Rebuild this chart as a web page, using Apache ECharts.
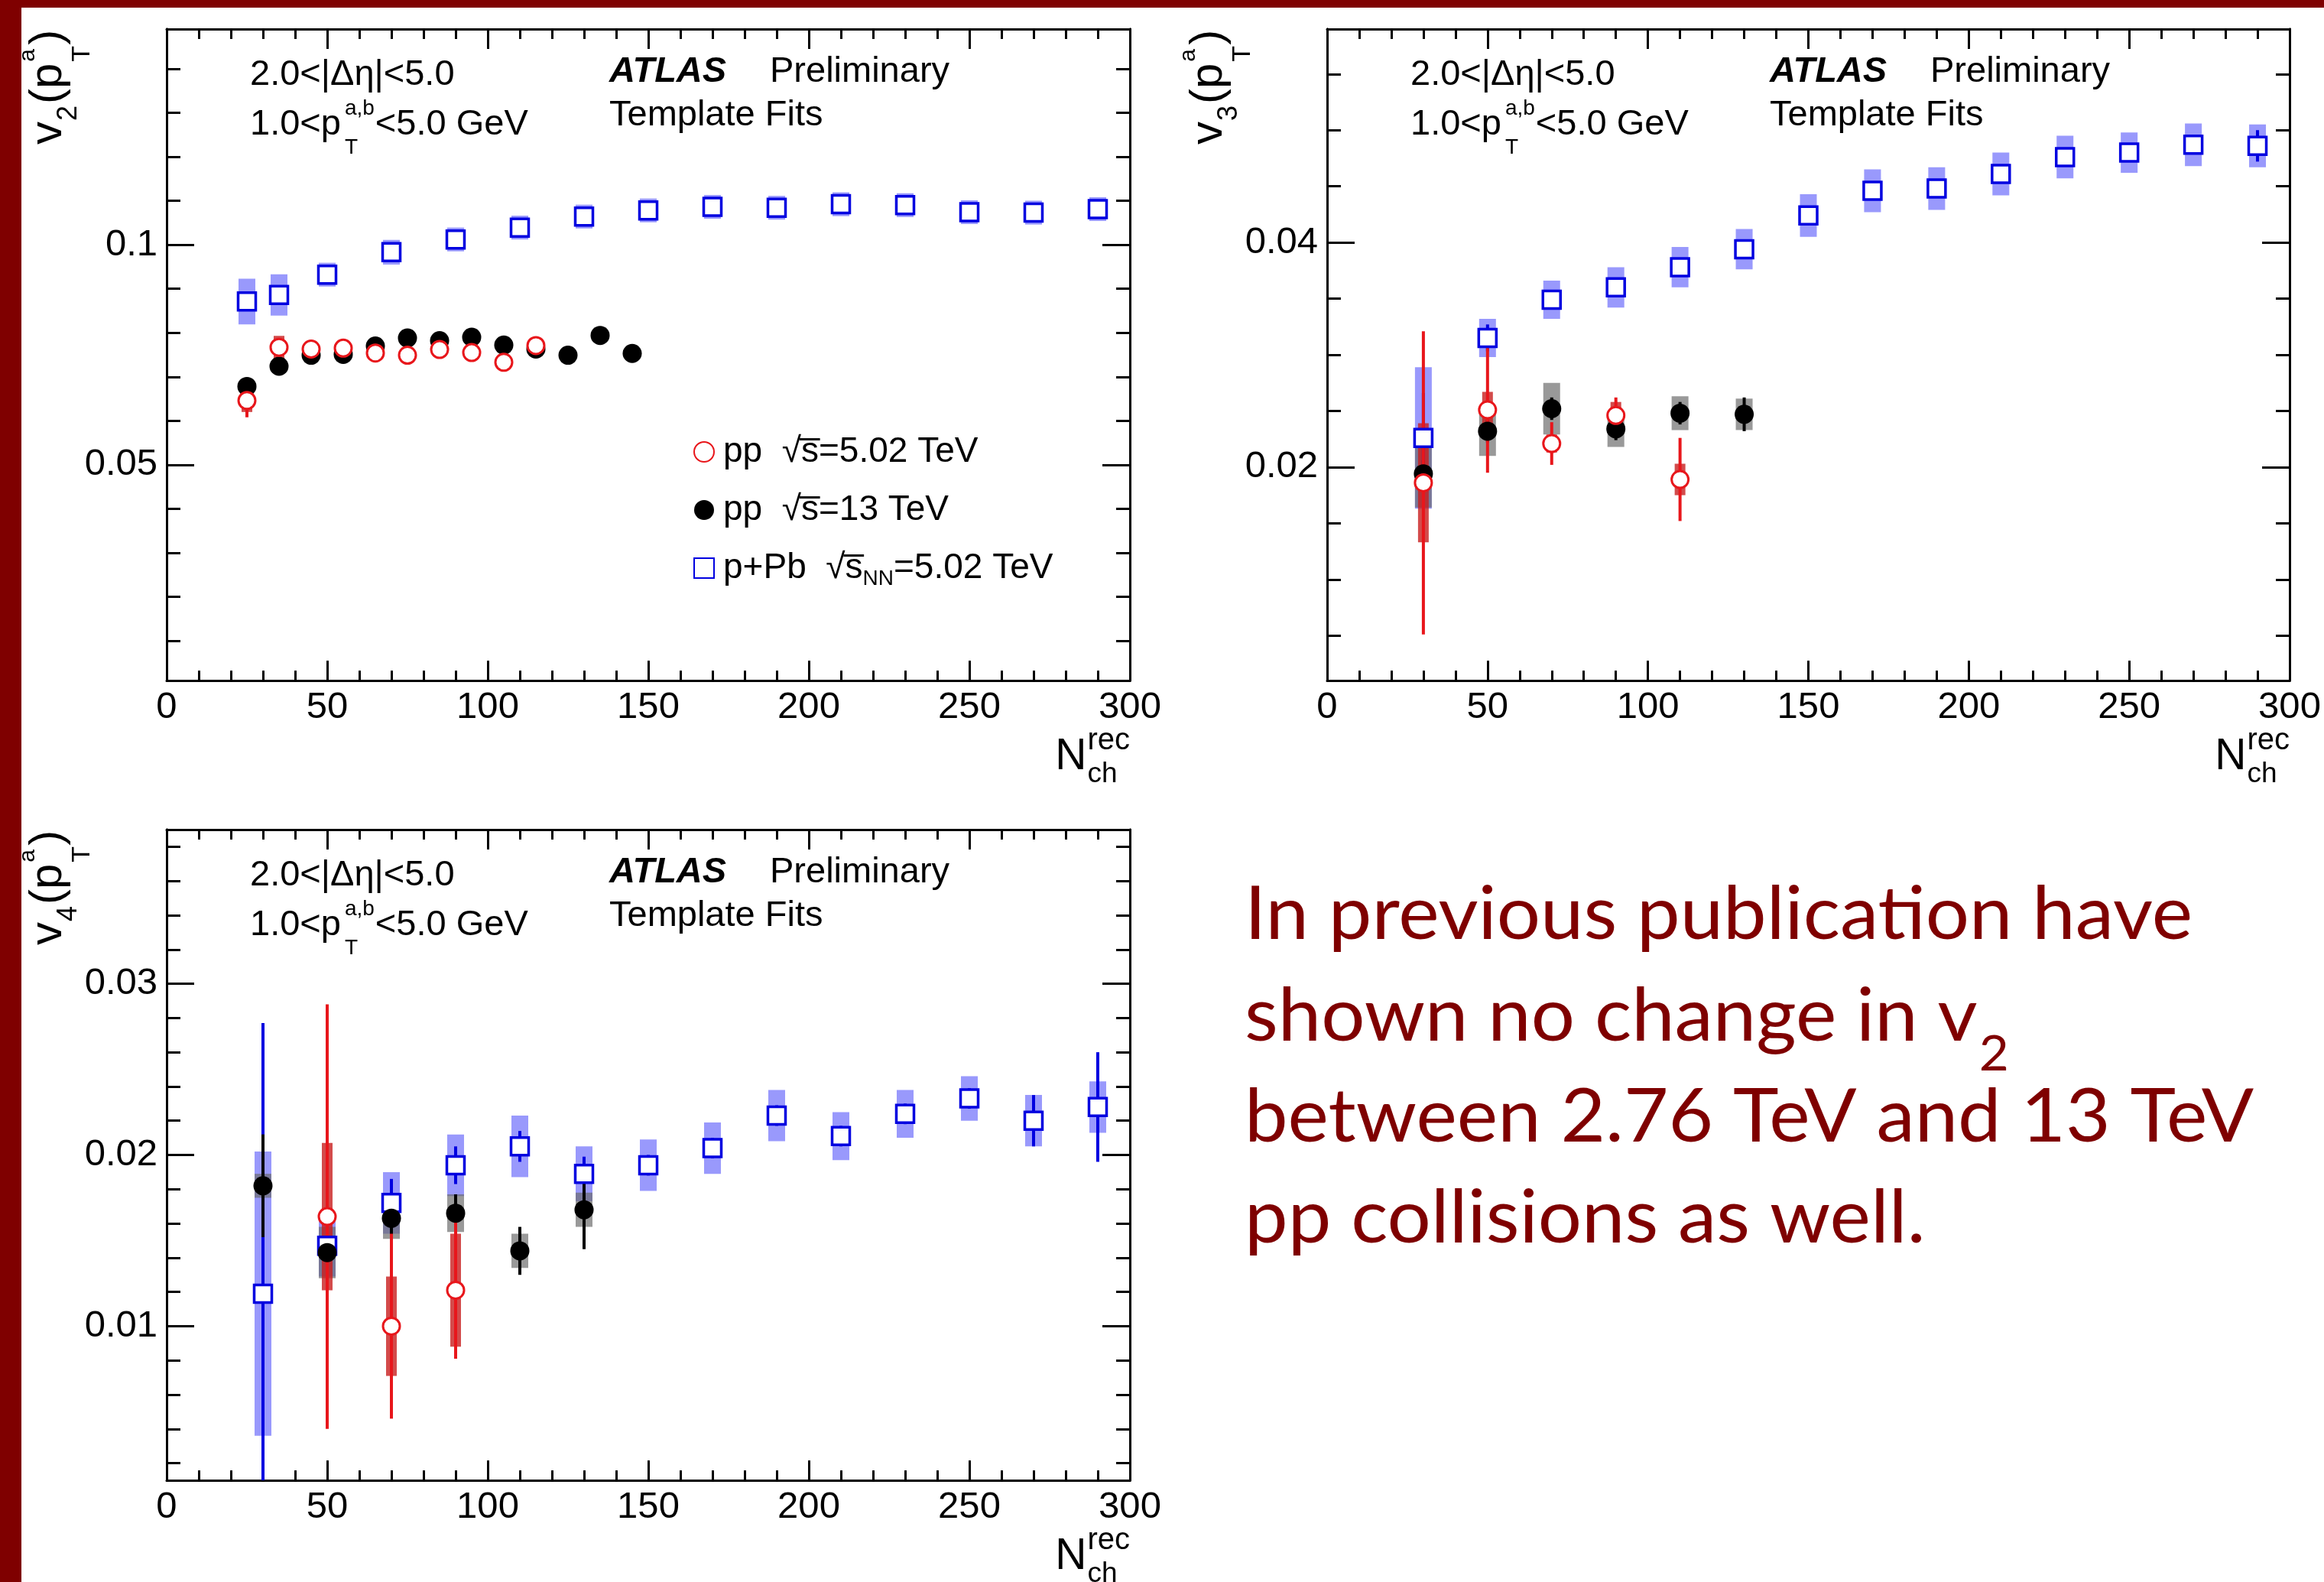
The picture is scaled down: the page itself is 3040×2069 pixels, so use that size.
<!DOCTYPE html>
<html><head><meta charset="utf-8">
<script src="https://cdn.jsdelivr.net/npm/echarts@6/dist/echarts.min.js"></script>
<style>html,body{margin:0;padding:0;background:#fff;}#c{width:3040px;height:2069px;}</style>
</head><body><div id="c"></div>
<script>
// ================= DATA =================
const xTickLabels = [0, 50, 100, 150, 200, 250, 300];
const v2MajorTicks = [0.05, 0.1];
const v2MinorTicks = [0.01, 0.02, 0.03, 0.04, 0.06, 0.07, 0.08, 0.09, 0.11, 0.12, 0.13, 0.14];
const v3MajorTicks = [0.02, 0.04];
const v3MinorTicks = [0.005, 0.01, 0.015, 0.025, 0.03, 0.035, 0.045, 0.05, 0.055];
const v4MajorTicks = [0.01, 0.02, 0.03];
const v4MinorTicks = [0.002, 0.004, 0.006, 0.008, 0.012, 0.014, 0.016, 0.018, 0.022, 0.024, 0.026, 0.028, 0.032, 0.034, 0.036, 0.038];

// v2
const pPb_v2_N    = [25, 35, 50, 70, 90, 110, 130, 150, 170, 190, 210, 230, 250, 270, 290];
const pPb_v2      = [0.0871, 0.0886, 0.0932, 0.0983, 0.1012, 0.1039, 0.1064, 0.1078, 0.1086, 0.1084, 0.1092, 0.1090, 0.1074, 0.1073, 0.1081];
const pPb_v2_stat = [0.0005, 0.0005, 0.0005, 0.0005, 0.0005, 0.0005, 0.0005, 0.0005, 0.0005, 0.0005, 0.0005, 0.0005, 0.0005, 0.0005, 0.0005];
const pPb_v2_sys  = [0.0052, 0.0047, 0.0027, 0.0028, 0.0027, 0.0027, 0.0027, 0.0027, 0.0027, 0.0027, 0.0027, 0.0027, 0.0027, 0.0027, 0.0027];
const pp13_v2_N    = [25, 35, 45, 55, 65, 75, 85, 95, 105, 115, 125, 135, 145];
const pp13_v2      = [0.0678, 0.0724, 0.0749, 0.0751, 0.0770, 0.0788, 0.0782, 0.0790, 0.0772, 0.0763, 0.0749, 0.0794, 0.0753];
const pp13_v2_stat = [0.0006, 0.0006, 0.0006, 0.0006, 0.0006, 0.0006, 0.0006, 0.0006, 0.0006, 0.0006, 0.0006, 0.0006, 0.0006];
const pp13_v2_sys  = [0.0008, 0.0008, 0.0008, 0.0008, 0.0008, 0.0008, 0.0008, 0.0008, 0.0008, 0.0008, 0.0008, 0.0008, 0.0008];
const pp5_v2_N    = [25, 35, 45, 55, 65, 75, 85, 95, 105, 115];
const pp5_v2      = [0.0646, 0.0767, 0.0763, 0.0765, 0.0754, 0.0749, 0.0762, 0.0755, 0.0733, 0.0771];
const pp5_v2_stat = [0.0038, 0.0012, 0.0010, 0.0010, 0.0010, 0.0010, 0.0010, 0.0010, 0.0010, 0.0010];
const pp5_v2_sys  = [0.0026, 0.0026, 0.0012, 0.0012, 0.0012, 0.0012, 0.0012, 0.0012, 0.0012, 0.0012];

// v3
const pPb_v3_N    = [30, 50, 70, 90, 110, 130, 150, 170, 190, 210, 230, 250, 270, 290];
const pPb_v3      = [0.0226, 0.0315, 0.0349, 0.0360, 0.0378, 0.0394, 0.0424, 0.0446, 0.0448, 0.0461, 0.0476, 0.0480, 0.0487, 0.0486];
const pPb_v3_stat = [0.0040, 0.0012, 0.0008, 0.0008, 0.0008, 0.0008, 0.0008, 0.0008, 0.0008, 0.0008, 0.0008, 0.0008, 0.0008, 0.0014];
const pPb_v3_sys  = [0.0063, 0.0017, 0.0017, 0.0018, 0.0018, 0.0018, 0.0019, 0.0019, 0.0019, 0.0019, 0.0019, 0.0018, 0.0019, 0.0019];
const pp13_v3_N    = [30, 50, 70, 90, 110, 130];
const pp13_v3      = [0.0194, 0.0232, 0.0252, 0.0234, 0.0248, 0.0247];
const pp13_v3_stat = [0.0012, 0.0010, 0.0010, 0.0010, 0.0010, 0.0015];
const pp13_v3_sys  = [0.0030, 0.0022, 0.0023, 0.0016, 0.0015, 0.0014];
const pp5_v3_N    = [30, 50, 70, 90, 110];
const pp5_v3      = [0.0186, 0.0251, 0.0221, 0.0246, 0.0189];
const pp5_v3_stat = [0.0135, 0.0056, 0.0019, 0.0016, 0.0037];
const pp5_v3_sys  = [0.0053, 0.0016, 0.0008, 0.0012, 0.0014];

// v4
const pPb_v4_N    = [30, 50, 70, 90, 110, 130, 150, 170, 190, 210, 230, 250, 270, 290];
const pPb_v4      = [0.0119, 0.0147, 0.0172, 0.0194, 0.0205, 0.0189, 0.0194, 0.0204, 0.0223, 0.0211, 0.0224, 0.0233, 0.0220, 0.0228];
const pPb_v4_stat = [0.0158, 0.0010, 0.0014, 0.0011, 0.0009, 0.0010, 0.0006, 0.0006, 0.0006, 0.0006, 0.0006, 0.0006, 0.0015, 0.0032];
const pPb_v4_sys  = [0.0083, 0.0018, 0.0018, 0.0018, 0.0018, 0.0016, 0.0015, 0.0015, 0.0015, 0.0014, 0.0014, 0.0013, 0.0015, 0.0015];
const pp13_v4_N    = [30, 50, 70, 90, 110, 130];
const pp13_v4      = [0.0182, 0.0143, 0.0163, 0.0166, 0.0144, 0.0168];
const pp13_v4_stat = [0.0030, 0.0024, 0.0010, 0.0011, 0.0014, 0.0023];
const pp13_v4_sys  = [0.0007, 0.0015, 0.0012, 0.0011, 0.0010, 0.0010];
const pp5_v4_N    = [50, 70, 90];
const pp5_v4      = [0.0164, 0.0100, 0.0121];
const pp5_v4_stat = [0.0124, 0.0054, 0.0040];
const pp5_v4_sys  = [0.0043, 0.0029, 0.0033];

const legendNames = ['pp5', 'pp13', 'pPb'];
const legendLabels = {
  pp5: '{t|pp  \u221As\u0305=5.02 TeV}',
  pp13: '{t|pp  \u221As\u0305=13 TeV}',
  pPb: '{t|p+Pb  \u221As\u0305}{sub|NN}{t|=5.02 TeV}'
};
const noteLines = ['In previous publication have', 'shown no change in v', 'between 2.76 TeV and 13 TeV', 'pp collisions as well.'];
const noteSub = '2';

// ================= STYLE / LAYOUT =================
const FONT = '"Liberation Sans", Arial, Helvetica, sans-serif';
const BLUE = '#0000e0', BLUE_BAND = 'rgba(90,90,250,0.62)';
const RED = '#e8161b', RED_BAND = 'rgba(200,30,30,0.8)';
const GREY_BAND = 'rgba(105,105,105,0.68)';
const DARKRED = '#7f0000';
const LAYOUT = [
  {left: 218, top: 38, width: 1260, height: 852},
  {left: 1736, top: 38, width: 1259, height: 852},
  {left: 218, top: 1085, width: 1260, height: 851}
];
const PANELS = [
  {ymin: 0.001, ymax: 0.149, major: v2MajorTicks, minor: v2MinorTicks, n: '2',
   pPb: [pPb_v2_N, pPb_v2, pPb_v2_stat, pPb_v2_sys], pp13: [pp13_v2_N, pp13_v2, pp13_v2_stat, pp13_v2_sys], pp5: [pp5_v2_N, pp5_v2, pp5_v2_stat, pp5_v2_sys]},
  {ymin: 0.001, ymax: 0.059, major: v3MajorTicks, minor: v3MinorTicks, n: '3',
   pPb: [pPb_v3_N, pPb_v3, pPb_v3_stat, pPb_v3_sys], pp13: [pp13_v3_N, pp13_v3, pp13_v3_stat, pp13_v3_sys], pp5: [pp5_v3_N, pp5_v3, pp5_v3_stat, pp5_v3_sys]},
  {ymin: 0.001, ymax: 0.039, major: v4MajorTicks, minor: v4MinorTicks, n: '4',
   pPb: [pPb_v4_N, pPb_v4, pPb_v4_stat, pPb_v4_sys], pp13: [pp13_v4_N, pp13_v4, pp13_v4_stat, pp13_v4_sys], pp5: [pp5_v4_N, pp5_v4, pp5_v4_stat, pp5_v4_sys]}
];

const mctx = document.createElement('canvas').getContext('2d');
function tw(text, size, family, weight, style) {
  mctx.font = (style || 'normal') + ' ' + (weight || 'normal') + ' ' + size + 'px ' + (family || FONT);
  return mctx.measureText(text).width;
}
const MID = 0.31; // canvas 'middle' to baseline, in em

function txt(text, x, baseline, size, styleExtra) {
  return {type: 'text', x: x, y: baseline - MID * size, z: 100,
    style: Object.assign({text: text, fontSize: size, fontFamily: FONT, fill: '#000', align: 'left', verticalAlign: 'middle'}, styleExtra || {})};
}

const grids = [], xAxes = [], yAxes = [], series = [], graphics = [];
const lineSt = {color: '#000', width: 3};
const LABEL_FS = 49;

PANELS.forEach((P, gi) => {
  const G = LAYOUT[gi];
  grids.push({left: G.left, top: G.top, width: G.width, height: G.height, containLabel: false});
  const xBase = {type: 'value', gridIndex: gi, min: 0, max: 300, interval: 50,
    axisLine: {show: true, onZero: false, lineStyle: lineSt},
    axisTick: {show: true, inside: true, length: 26, lineStyle: lineSt},
    minorTick: {show: true, splitNumber: 5, length: 13, lineStyle: lineSt},
    splitLine: {show: false}, minorSplitLine: {show: false}};
  xAxes.push(Object.assign({}, xBase, {position: 'bottom',
    axisLabel: {show: true, customValues: xTickLabels, margin: 11, fontSize: LABEL_FS, fontFamily: FONT, color: '#000'}}));
  xAxes.push(Object.assign({}, xBase, {position: 'top', axisLabel: {show: false}}));
  const yBase = {type: 'value', gridIndex: gi, min: P.ymin, max: P.ymax, splitLine: {show: false},
    axisLine: {show: true, onZero: false, lineStyle: lineSt}};
  yAxes.push(Object.assign({}, yBase, {position: 'left',
    axisTick: {show: true, inside: true, length: 36, customValues: P.major, lineStyle: lineSt},
    axisLabel: {show: true, customValues: P.major, margin: 12, fontSize: LABEL_FS, fontFamily: FONT, color: '#000'}}));
  yAxes.push(Object.assign({}, yBase, {position: 'left',
    axisTick: {show: true, inside: true, length: 18, customValues: P.minor, lineStyle: lineSt}, axisLabel: {show: false}}));
  yAxes.push(Object.assign({}, yBase, {position: 'right',
    axisTick: {show: true, inside: true, length: 36, customValues: P.major, lineStyle: lineSt}, axisLabel: {show: false}}));
  yAxes.push(Object.assign({}, yBase, {position: 'right',
    axisTick: {show: true, inside: true, length: 18, customValues: P.minor, lineStyle: lineSt}, axisLabel: {show: false}}));

  const xi = gi * 2, yi = gi * 4;
  function band(set, w, color) {
    return {type: 'custom', xAxisIndex: xi, yAxisIndex: yi, silent: true, clip: true,
      data: set[0].map((n, i) => [n, set[1][i], set[3][i]]), encode: {x: 0, y: 1},
      renderItem: (params, api) => {
        const x = api.value(0), y = api.value(1), e = api.value(2);
        const a = api.coord([x, y + e]), b = api.coord([x, y - e]);
        return {type: 'rect', shape: {x: a[0] - w / 2, y: a[1], width: w, height: b[1] - a[1]}, style: {fill: color}};
      }};
  }
  function errs(set, color) {
    return {type: 'custom', xAxisIndex: xi, yAxisIndex: yi, silent: true, clip: true,
      data: set[0].map((n, i) => [n, set[1][i], set[2][i]]), encode: {x: 0, y: 1},
      renderItem: (params, api) => {
        const x = api.value(0), y = api.value(1), e = api.value(2);
        const a = api.coord([x, y + e]), b = api.coord([x, y - e]);
        return {type: 'line', shape: {x1: a[0], y1: a[1], x2: b[0], y2: b[1]}, style: {stroke: color, lineWidth: 4}};
      }};
  }
  function marks(name, set, symbol, size, itemStyle) {
    return {type: 'scatter', name: name, xAxisIndex: xi, yAxisIndex: yi, silent: true,
      data: set[0].map((n, i) => [n, set[1][i]]), symbol: symbol, symbolSize: size, itemStyle: itemStyle,
      emphasis: {disabled: true}};
  }
  series.push(band(P.pPb, 22, BLUE_BAND));
  series.push(band(P.pp13, 22, GREY_BAND));
  series.push(band(P.pp5, 14, RED_BAND));
  series.push(errs(P.pPb, BLUE));
  series.push(marks('pPb', P.pPb, 'rect', 23, {color: '#fff', borderColor: BLUE, borderWidth: 3.5, opacity: 1}));
  series.push(errs(P.pp13, '#000'));
  series.push(marks('pp13', P.pp13, 'circle', 25, {color: '#000', opacity: 1}));
  series.push(errs(P.pp5, RED));
  series.push(marks('pp5', P.pp5, 'circle', 22, {color: '#fff', borderColor: RED, borderWidth: 3, opacity: 1}));

  // ---- annotations ----
  const L = G.left, T = G.top, R = G.left + G.width, B = G.top + G.height;
  const fs = 47, ss = 28;
  graphics.push(txt('2.0<|\u0394\u03B7|<5.0', L + 109, T + 75, fs));
  const w1 = tw('1.0<p', fs);
  graphics.push(txt('1.0<p', L + 109, T + 140, fs));
  const sx = L + 109 + w1 + 5;
  graphics.push(txt('a,b', sx, T + 113, ss));
  graphics.push(txt('T', sx, T + 164, ss));
  graphics.push(txt('<5.0 GeV', sx + Math.max(tw('a,b', ss), tw('T', ss)) + 1, T + 140, fs));
  graphics.push(txt('ATLAS', L + 579, T + 71, fs, {fontWeight: 'bold', fontStyle: 'italic'}));
  graphics.push(txt('Preliminary', L + 789, T + 71, fs));
  graphics.push(txt('Template Fits', L + 579, T + 128, fs));

  // x title N_ch^rec
  const recW = tw('rec', 40);
  const recX = R - recW;
  graphics.push(txt('rec', recX, B + 91, 40));
  graphics.push(txt('ch', recX, B + 134, 37));
  graphics.push(txt('N', recX - 1 - tw('N', 57), B + 118, 57));

  // y title v_n(p_T^a), rotated
  const F = 60;
  const wv = tw('v', F), wn = tw(P.n, 36), wpp = tw('(p', F), wa = tw('a', 30), wT = tw('T', 34);
  const lt = (s, x, b, size) => ({type: 'text', x: x, y: b - MID * size,
    style: {text: s, fontSize: size, fontFamily: FONT, fill: '#000', align: 'left', verticalAlign: 'middle'}});
  const px = wv + wn + 3;
  const sx2 = px + wpp + 2;
  graphics.push({type: 'group', x: L - 136, y: T + 151, rotation: Math.PI / 2, z: 100, children: [
    lt('v', 0, 0, F), lt(P.n, wv + 1, 19, 36), lt('(p', px, 0, F),
    lt('a', sx2, -36, 30), lt('T', sx2, 36, 34), lt(')', sx2 + Math.max(wa, wT) + 1, 0, F)
  ]});
});

// ---- note text block ----
const NOTE_FONT = 'Lato, "Open Sans", sans-serif';
const NFS = 96;
const nsx = 1240 / tw(noteLines[0], NFS, NOTE_FONT);
const noteBase = [1228, 1361, 1493, 1625];
noteLines.forEach((s, i) => {
  graphics.push({type: 'text', x: 1628, y: noteBase[i] - 0.32 * NFS, scaleX: nsx, z: 100,
    style: {text: s, fontSize: NFS, fontFamily: NOTE_FONT, fill: DARKRED, align: 'left', verticalAlign: 'middle'}});
});
graphics.push({type: 'text', x: 1628 + nsx * tw(noteLines[1], NFS, NOTE_FONT) + 2, y: 1400 - 0.32 * 64, scaleX: nsx, z: 100,
  style: {text: noteSub, fontSize: 64, fontFamily: NOTE_FONT, fill: DARKRED, align: 'left', verticalAlign: 'middle'}});

// ---- slide border ----
graphics.push({type: 'rect', z: 1, shape: {x: 0, y: 0, width: 3040, height: 10}, style: {fill: DARKRED}});
graphics.push({type: 'rect', z: 1, shape: {x: 0, y: 0, width: 28, height: 2069}, style: {fill: DARKRED}});

const chart = echarts.init(document.getElementById('c'), null, {renderer: 'canvas'});
chart.setOption({
  animation: false,
  backgroundColor: '#fff',
  grid: grids, xAxis: xAxes, yAxis: yAxes, series: series, graphic: graphics,
  legend: {
    show: true, orient: 'vertical', left: 907, top: 568, padding: 0, itemGap: 30,
    itemWidth: 26, itemHeight: 26, selectedMode: false,
    data: [
      {name: 'pp5', icon: 'circle', itemStyle: {color: '#fff', borderColor: RED, borderWidth: 2}},
      {name: 'pp13', icon: 'circle', itemStyle: {color: '#000', borderWidth: 0}},
      {name: 'pPb', icon: 'rect', itemStyle: {color: '#fff', borderColor: BLUE, borderWidth: 2}}
    ],
    formatter: name => legendLabels[name],
    textStyle: {fontSize: 46, fontFamily: FONT, color: '#000', padding: [0, 0, 0, 7],
      rich: {
        t: {fontSize: 46, lineHeight: 56, fontFamily: FONT, color: '#000'},
        sub: {fontSize: 28, lineHeight: 30, verticalAlign: 'bottom', fontFamily: FONT, color: '#000'}
      }}
  }
});
</script></body></html>
